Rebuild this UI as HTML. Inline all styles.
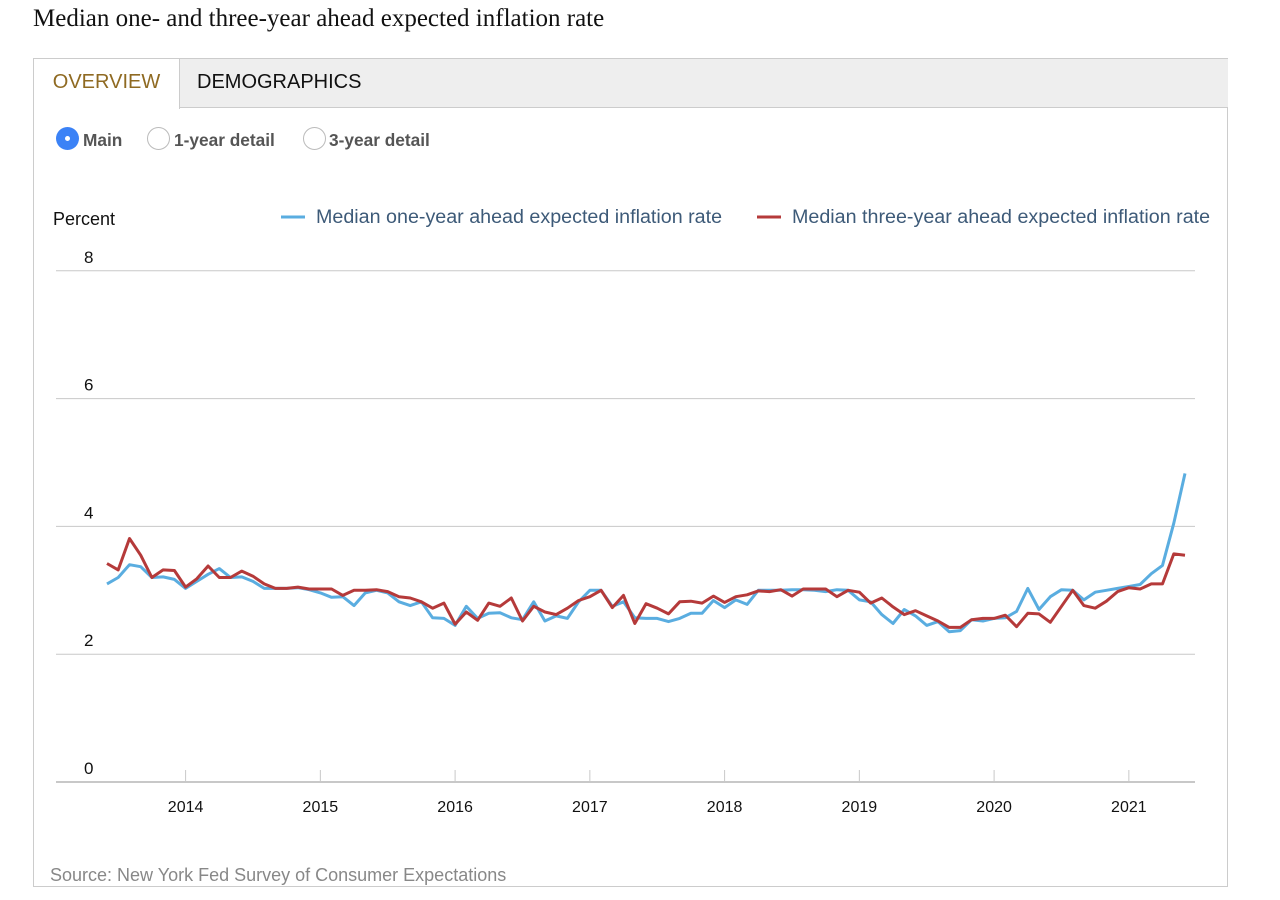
<!DOCTYPE html>
<html><head><meta charset="utf-8"><style>
body{margin:0;width:1280px;height:900px;background:#fff;font-family:"Liberation Sans",sans-serif;position:relative;overflow:hidden}
.abs{position:absolute}
</style></head><body>
<div class="abs" style="left:33px;top:5px;font-family:'Liberation Serif',serif;font-size:25px;color:#111">Median one- and three-year ahead expected inflation rate</div>
<div class="abs" style="left:33px;top:58px;width:1195px;height:829px;border:1px solid #ccc;box-sizing:border-box"></div>
<div class="abs" style="left:34px;top:59px;width:1194px;height:49px;background:#eee;border-bottom:1px solid #ccc;box-sizing:border-box"></div>
<div class="abs" style="left:34px;top:59px;width:145px;height:50px;background:#fff;border-right:1px solid #ccc;color:#8f6a22;font-size:20px;line-height:46px;text-align:center">OVERVIEW</div>
<div class="abs" style="left:197px;top:59px;height:46px;color:#111;font-size:20px;line-height:46px">DEMOGRAPHICS</div>
<div class="abs" style="left:56px;top:127px;width:23px;height:23px;border-radius:50%;background:#3b82f6;box-sizing:border-box"><div style="position:absolute;left:9px;top:9px;width:5px;height:5px;border-radius:50%;background:#fff"></div></div>
<div class="abs" style="left:83px;top:130px;font-size:17.3px;font-weight:bold;color:#555">Main</div>
<div class="abs" style="left:147px;top:127px;width:23px;height:23px;border-radius:50%;border:1px solid #bbb;box-sizing:border-box"></div>
<div class="abs" style="left:174px;top:130px;font-size:17.3px;font-weight:bold;color:#555">1-year detail</div>
<div class="abs" style="left:303px;top:127px;width:23px;height:23px;border-radius:50%;border:1px solid #bbb;box-sizing:border-box"></div>
<div class="abs" style="left:329px;top:130px;font-size:17.3px;font-weight:bold;color:#555">3-year detail</div>
<div class="abs" style="left:50px;top:865px;font-size:18px;color:#888">Source: New York Fed Survey of Consumer Expectations</div>
<svg class="abs" style="left:0;top:0" width="1280" height="900">
<text x="53" y="225" font-size="18" fill="#111">Percent</text>
<g>
<line x1="281" y1="217" x2="305" y2="217" stroke="#5aade0" stroke-width="3"/>
<text x="316" y="223" font-size="19.7" fill="#3d5a78">Median one-year ahead expected inflation rate</text>
<line x1="757" y1="217" x2="781" y2="217" stroke="#b53a3a" stroke-width="3"/>
<text x="792" y="223" font-size="19.7" fill="#3d5a78">Median three-year ahead expected inflation rate</text>
</g>
<g id="grid"></g><g id="xaxis"></g><g id="series"></g>
</svg>
<script>
const yTicks=[0,2,4,6,8];
const xYears=["2014","2015","2016","2017","2018","2019","2020","2021"];
const oneYear=[3.1,3.2,3.4,3.37,3.2,3.21,3.17,
3.03,3.14,3.25,3.34,3.2,3.21,3.14,3.03,3.03,3.03,3.04,3.01,
2.96,2.89,2.9,2.76,2.96,3.0,2.96,2.82,2.76,2.82,2.57,2.56,
2.45,2.75,2.56,2.64,2.65,2.57,2.54,2.82,2.52,2.6,2.56,2.82,
3.0,3.0,2.75,2.82,2.57,2.56,2.56,2.51,2.56,2.64,2.64,2.84,
2.73,2.85,2.78,3.0,3.0,3.0,3.01,3.01,3.0,2.98,3.01,3.0,
2.85,2.82,2.62,2.48,2.7,2.6,2.45,2.51,2.35,2.37,2.54,2.52,
2.56,2.57,2.67,3.03,2.7,2.9,3.01,3.0,2.85,2.97,3.0,3.03,
3.06,3.09,3.26,3.39,4.05,4.83];
const threeYear=[3.42,3.32,3.81,3.55,3.2,3.32,3.31,
3.05,3.18,3.38,3.2,3.2,3.3,3.22,3.1,3.03,3.03,3.05,3.02,
3.02,3.02,2.92,3.0,3.0,3.01,2.98,2.9,2.88,2.82,2.72,2.8,
2.47,2.66,2.53,2.8,2.75,2.88,2.52,2.75,2.66,2.62,2.72,2.84,
2.9,3.0,2.73,2.92,2.48,2.79,2.72,2.63,2.82,2.83,2.8,2.91,
2.81,2.9,2.93,2.99,2.98,3.01,2.91,3.02,3.02,3.02,2.9,3.0,
2.97,2.8,2.88,2.74,2.62,2.68,2.6,2.52,2.42,2.42,2.54,2.56,
2.56,2.61,2.43,2.64,2.63,2.5,2.75,3.0,2.76,2.72,2.83,2.98,
3.04,3.02,3.1,3.1,3.57,3.55];
const NS="http://www.w3.org/2000/svg";
const y=v=>782-v*63.9;
const x=i=>107+i*(1078/96);
function mk(tag,attrs,parent){const e=document.createElementNS(NS,tag);for(const k in attrs)e.setAttribute(k,attrs[k]);parent.appendChild(e);return e;}
const grid=document.getElementById('grid');
yTicks.forEach(t=>{
 const l=mk('line',{x1:56,x2:1195,y1:y(t),y2:y(t),stroke:'#c8c8c8','stroke-width':t===0?2:1},grid);
 
 
 const tx=mk('text',{x:84,y:y(t)-8,'font-size':17,fill:'#111'},grid);
 tx.textContent=t;
 
 
});
const xa=document.getElementById('xaxis');
xYears.forEach((yr,k)=>{
 const xi=x(7+k*12);
 const tk=mk('line',{x1:xi,x2:xi,y1:770,y2:782,stroke:'#c8c8c8'},xa);
 
 
 const tx=mk('text',{x:xi,y:812,'font-size':16,fill:'#111','text-anchor':'middle'},xa);
 tx.textContent=yr;
 
 
});
const sg=document.getElementById('series');
function line(arr,color,name){
 const p=mk('polyline',{points:arr.map((v,i)=>x(i).toFixed(1)+','+y(v).toFixed(1)).join(' '),fill:'none',stroke:color,'stroke-width':3,'stroke-linejoin':'round'},sg);
 
 
}
line(oneYear,'#5aade0','one-year-line');
line(threeYear,'#b53a3a','three-year-line');
</script>
</body></html>
